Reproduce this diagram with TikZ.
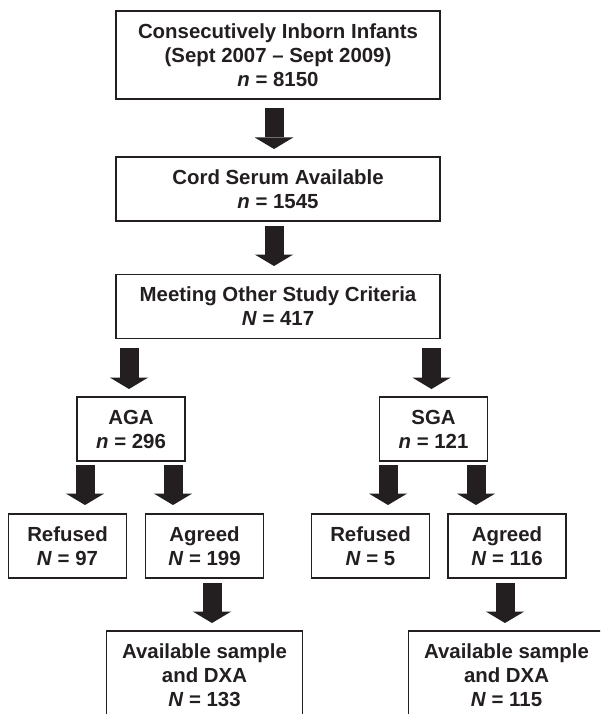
\documentclass[tikz,border=0pt]{standalone}
\usepackage{fontspec}
\setmainfont{Liberation Sans}
\usetikzlibrary{arrows.meta}
\definecolor{ink}{HTML}{231F20}
\tikzstyle{bS}=[rectangle,draw=ink,line width=1.2pt,inner sep=0pt,outer sep=0pt,minimum height=64pt,text=ink,align=center,font=\bfseries\fontsize{20.4}{24}\selectfont]
\tikzstyle{aS}=[draw=ink,line width=19pt,-{Triangle[width=38.5pt,length=11.5pt,line width=0pt]}]

\begin{document}
\begin{tikzpicture}[x=1pt,y=-1pt]
    \useasboundingbox (0,0) rectangle (600,714);
    \clip (0,0) rectangle (600,714);
    \draw (278,55) node[bS,minimum width=324pt,minimum height=88pt] (n1) {Consecutively Inborn Infants\\(Sept 2007 – Sept 2009)\\\textit{n} = 8150};
    \draw (278,189) node[bS,minimum width=324pt] (n2) {Cord Serum Available\\\textit{n} = 1545};
    \draw (278,306.5) node[bS,minimum width=324pt] (n3) {Meeting Other Study Criteria\\\textit{N} = 417};
    \draw (131,429) node[bS,minimum width=108pt] (nAGA) {AGA\\\textit{n} = 296};
    \draw (433.5,429) node[bS,minimum width=108pt] (nSGA) {SGA\\\textit{n} = 121};
    \draw (67.5,546) node[bS,minimum width=118pt] (nRefA) {Refused\\\textit{N} = 97};
    \draw (204.5,546) node[bS,minimum width=118pt] (nAgrA) {Agreed\\\textit{N} = 199};
    \draw (370.5,546) node[bS,minimum width=118pt] (nRefS) {Refused\\\textit{N} = 5};
    \draw (507,546) node[bS,minimum width=118pt] (nAgrS) {Agreed\\\textit{N} = 116};
    \draw (204.5,675) node[bS,minimum width=196pt,minimum height=88pt] (nAvA) {Available sample\\and DXA\\\textit{N} = 133};
    \draw (506.5,675) node[bS,minimum width=196pt,minimum height=88pt] (nAvS) {Available sample\\and DXA\\\textit{N} = 115};

    \path
        ([xshift=-4pt,yshift=-9pt]n1.south) edge[aS] ([xshift=-4pt,yshift=8pt]n2.north)
        ([xshift=-4pt,yshift=-5pt]n2.south) edge[aS] ([xshift=-4pt,yshift=8.5pt]n3.north)
        ([xshift=-149pt,yshift=-9.5pt]n3.south) edge[aS] ([xshift=-2pt,yshift=8pt]nAGA.north)
        ([xshift=153.5pt,yshift=-9.5pt]n3.south) edge[aS] ([xshift=-2pt,yshift=8pt]nSGA.north)
        ([xshift=-46pt,yshift=-4pt]nAGA.south) edge[aS] ([xshift=17.5pt,yshift=9pt]nRefA.north)
        ([xshift=42pt,yshift=-4pt]nAGA.south) edge[aS] ([xshift=-31.5pt,yshift=9pt]nAgrA.north)
        ([xshift=-45.5pt,yshift=-4pt]nSGA.south) edge[aS] ([xshift=17.5pt,yshift=9pt]nRefS.north)
        ([xshift=42.5pt,yshift=-4pt]nSGA.south) edge[aS] ([xshift=-31pt,yshift=9pt]nAgrS.north)
        ([xshift=7.5pt,yshift=-5pt]nAgrA.south) edge[aS] ([xshift=7.5pt,yshift=8pt]nAvA.north)
        ([xshift=-2pt,yshift=-5pt]nAgrS.south) edge[aS] ([xshift=-1.5pt,yshift=8pt]nAvS.north)
    ;
\end{tikzpicture}
\end{document}
